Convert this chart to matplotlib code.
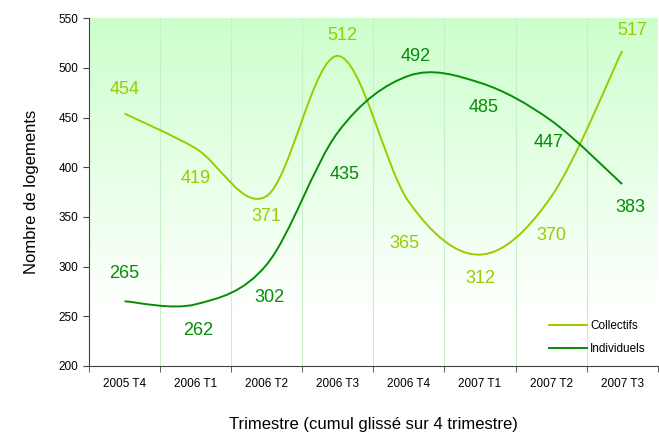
import matplotlib
matplotlib.use("Agg")

import numpy as np
import matplotlib.pyplot as plt
from matplotlib.path import Path
from matplotlib.patches import PathPatch
from matplotlib.lines import Line2D

plt.rcParams["font.family"] = ["Liberation Sans", "DejaVu Sans"]

quarters = ["2005 T4", "2006 T1", "2006 T2", "2006 T3",
            "2006 T4", "2007 T1", "2007 T2", "2007 T3"]
collectifs = [454, 419, 371, 512, 365, 312, 370, 517]
individuels = [265, 262, 302, 435, 492, 485, 447, 383]

# label offsets in points (+ above, - below)
off_coll = [(0, 17), (0, -22), (0, -15), (3, 15), (-3, -30), (0, -17), (0, -28), (7, 15)]
off_ind = [(0, 20), (2, -19), (2, -24), (5, -30), (5, 14), (3, -18), (-2, -16), (6, -17)]

c_coll = "#99cc00"
c_ind = "#078c07"


def smooth_path(xs, ys):
    # Bezier segments through the points (Excel-like smoothed line)
    pts = np.column_stack([xs, ys]).astype(float)
    n = len(pts)
    verts = [pts[0]]
    codes = [Path.MOVETO]
    for i in range(n - 1):
        p0 = pts[i - 1] if i > 0 else pts[i]
        p1 = pts[i]
        p2 = pts[i + 1]
        p3 = pts[i + 2] if i + 2 < n else pts[i + 1]
        verts += [p1 + (p2 - p0) / 6, p2 - (p3 - p1) / 6, p2]
        codes += [Path.CURVE4] * 3
    return Path(verts, codes)


fig = plt.figure(figsize=(6.59, 4.32), dpi=100)
ax = fig.add_axes([0.135, 0.153, 0.863, 0.805])

x = np.arange(len(quarters))
ax.set_xlim(-0.5, len(quarters) - 0.5)
ax.set_ylim(200, 550)

# gradient background: light green at top fading to white
grad = np.linspace(0, 1, 256).reshape(-1, 1)
top = np.array([0.80, 1.0, 0.80])
cols = top + (1 - top) * np.clip(grad / 0.85, 0, 1)[..., None]
ax.imshow(cols, extent=[0, 1, 0, 1], transform=ax.transAxes,
          aspect="auto", origin="upper", zorder=0)

for b in np.arange(0.5, len(quarters) - 0.5, 1):
    ax.axvline(b, color="#c8f0c8", lw=0.8, zorder=1)

ax.add_patch(PathPatch(smooth_path(x, collectifs), fill=False,
                       edgecolor=c_coll, lw=1.4, zorder=3))
ax.add_patch(PathPatch(smooth_path(x, individuels), fill=False,
                       edgecolor=c_ind, lw=1.4, zorder=3))

for xi, v, o in zip(x, collectifs, off_coll):
    ax.annotate(str(v), (xi, v), xytext=o, textcoords="offset points",
                ha="center", va="center", fontsize=13, color=c_coll)
for xi, v, o in zip(x, individuels, off_ind):
    ax.annotate(str(v), (xi, v), xytext=o, textcoords="offset points",
                ha="center", va="center", fontsize=13, color=c_ind)

ax.set_xticks(x)
ax.set_xticklabels(quarters, fontsize=8.5)
ax.set_xticks(np.arange(-0.5, len(quarters), 1), minor=True)
ax.tick_params(axis="x", which="major", length=0, pad=9)
ax.tick_params(axis="x", which="minor", length=4, color="#404040")
ax.set_yticks(range(200, 551, 50))
ax.tick_params(axis="y", labelsize=8.5, length=4, color="#404040")

for s in ["top", "right"]:
    ax.spines[s].set_visible(False)
for s in ["left", "bottom"]:
    ax.spines[s].set_color("#404040")

ax.set_ylabel("Nombre de logements", fontsize=12, labelpad=14)
ax.set_xlabel("Trimestre (cumul glissé sur 4 trimestre)", fontsize=12, labelpad=19)

handles = [Line2D([], [], color=c_coll, lw=1.4),
           Line2D([], [], color=c_ind, lw=1.4)]
ax.legend(handles, ["Collectifs", "Individuels"], loc="lower right",
          bbox_to_anchor=(0.998, 0.0), frameon=False, fontsize=8.5,
          handlelength=3.2, handletextpad=0.3, labelspacing=0.95)

fig.savefig("out.png", dpi=100)
